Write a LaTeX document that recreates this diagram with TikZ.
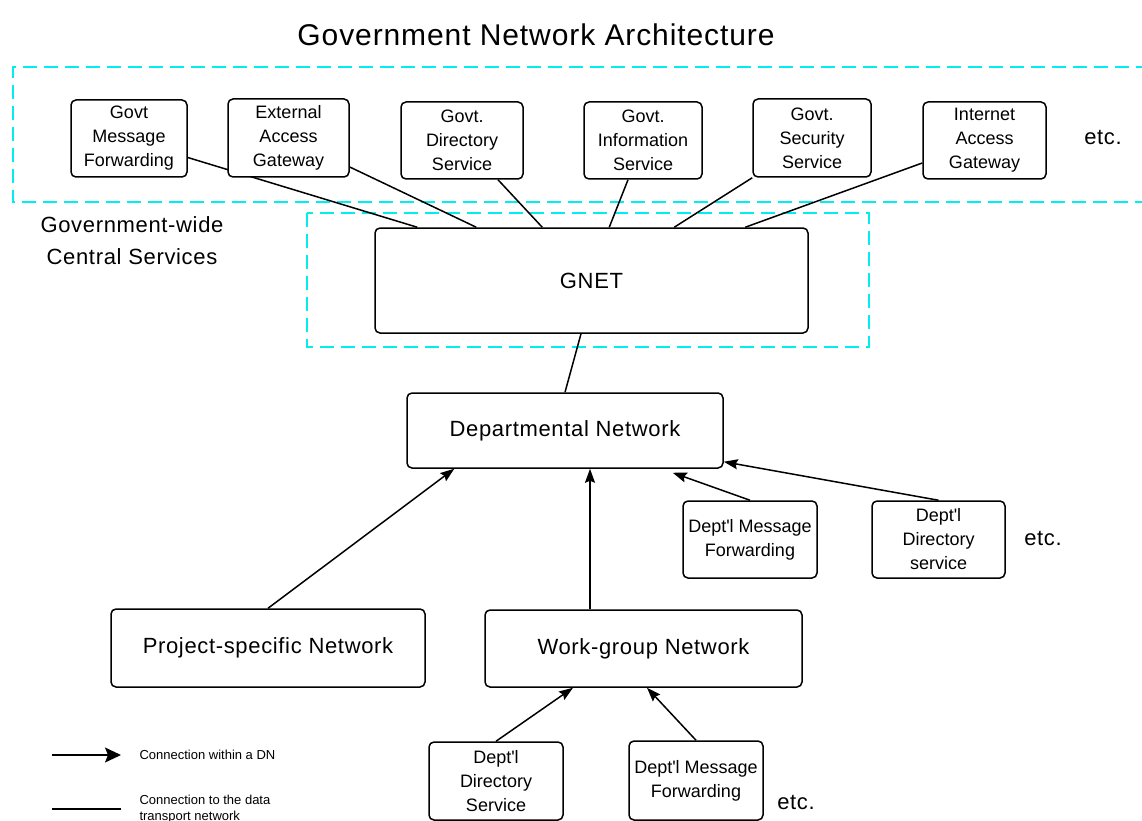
\documentclass[tikz,border=0pt]{standalone}
\usepackage{fontspec}
\setmainfont{Liberation Sans}[Ligatures=TeXOff]
\newfontfamily\spaced{Liberation Sans}[LetterSpace=3,Ligatures=TeXOff]
\usetikzlibrary{arrows.meta,backgrounds}
\definecolor{regioncyan}{RGB}{0,238,238}

\begin{document}
\begin{tikzpicture}[x=1pt, y=-1pt,
    box/.style={draw, line width=1.5pt, rounded corners=5pt, fill=white, inner sep=0pt, align=center},
    svcbox/.style={box, font=\fontsize{18}{24}\selectfont},
    netbox/.style={box, font=\spaced\fontsize{22}{28}\selectfont},
    region/.style={draw=regioncyan, line width=1.6pt, dash pattern=on 14pt off 7pt},
    link/.style={line width=1.5pt},
    dnlink/.style={line width=1.5pt, -{Stealth[length=14pt,width=10pt,inset=2pt]}}]
    \useasboundingbox (0,0) rectangle (1142,821);

    \node (title) at (536,35) {\spaced\fontsize{30}{34}\selectfont Government Network Architecture};

    % central services
    \node[svcbox, minimum width=116pt, minimum height=77pt] (msgfwd) at (129,138.5) {Govt\\Message\\Forwarding};
    \node[svcbox, minimum width=121pt, minimum height=78pt] (extgw) at (288.5,138) {External\\Access\\Gateway};
    \node[svcbox, minimum width=122pt, minimum height=77pt] (dirsvc) at (462,140.5) {Govt.\\Directory\\Service};
    \node[svcbox, minimum width=118pt, minimum height=77pt] (infosvc) at (643,140.5) {Govt.\\Information\\Service};
    \node[svcbox, minimum width=118pt, minimum height=78pt] (secsvc) at (812,138) {Govt.\\Security\\Service};
    \node[svcbox, minimum width=123pt, minimum height=77pt] (inetgw) at (984.5,140.5) {Internet\\Access\\Gateway};
    \node[font=\spaced\fontsize{22}{28}\selectfont] (etctop) at (1103,137) {etc.};
    \node[font=\spaced\fontsize{22}{32}\selectfont, align=center] (govwide) at (132,241) {Government-wide\\Central Services};

    % networks
    \node[netbox, minimum width=433pt, minimum height=105pt] (gnet) at (591.5,280.5) {GNET};
    \node[netbox, minimum width=316pt, minimum height=75pt] (dept) at (565,430.5) {Departmental Network};
    \node[netbox, minimum width=314pt, minimum height=78pt] (proj) at (268,648) {Project-specific Network};
    \node[netbox, minimum width=317pt, minimum height=77pt] (wg) at (643.5,648.5) {Work-group Network};

    % departmental services
    \node[svcbox, minimum width=134pt, minimum height=77pt] (dnmsg) at (750,539.5) {Dept'l Message\\Forwarding};
    \node[svcbox, minimum width=133pt, minimum height=77pt] (dndir) at (938.5,539.5) {Dept'l\\Directory\\service};
    \node[font=\spaced\fontsize{22}{28}\selectfont] (etcdn) at (1043,538) {etc.};
    \node[svcbox, minimum width=134pt, minimum height=78pt] (wgdir) at (496,781) {Dept'l\\Directory\\Service};
    \node[svcbox, minimum width=134pt, minimum height=79pt] (wgmsg) at (696,780.5) {Dept'l Message\\Forwarding};
    \node[font=\spaced\fontsize{22}{28}\selectfont] (etcwg) at (796,802) {etc.};

    % legend
    \coordinate (keya) at (52,755);
    \coordinate (keyb) at (121,755);
    \coordinate (keyc) at (52,809);
    \coordinate (keyd) at (121,809);
    \node[anchor=west, font=\fontsize{13}{16}\selectfont] (keyarrow) at (136,755) {Connection within a DN};
    \node[anchor=west, font=\fontsize{13}{16}\selectfont, align=left] (keyline) at (136,809) {Connection to the data\\transport network};
    \draw[line width=1.5pt, -{Stealth[length=16pt,width=15pt,inset=3pt]}] (keya) -- (keyb);
    \draw[link] (keyc) -- (keyd);

    \begin{scope}[on background layer]
    \draw[region] (1150,67) -- (13,67) -- (13,202) -- (1150,202);
    \draw[region] (307,213) rectangle (869,347);
    \draw[link] ([yshift=-19pt]msgfwd.east) -- ([xshift=43pt]gnet.north west);
    \draw[link] ([yshift=-29pt]extgw.east) -- ([xshift=102pt]gnet.north west);
    \draw[link] ([xshift=36pt]dirsvc.south) -- ([xshift=168pt]gnet.north west);
    \draw[link] ([xshift=-15pt]infosvc.south) -- ([xshift=235pt]gnet.north west);
    \draw[link] (secsvc.south west) -- ([xshift=300pt]gnet.north west);
    \draw[link] ([yshift=-22.5pt]inetgw.west) -- ([xshift=371pt]gnet.north west);
    \draw[link] ([xshift=-10.5pt]gnet.south) -- (dept.north);
    \end{scope}

    \draw[dnlink] (proj.north) -- ([xshift=48pt]dept.south west);
    \draw[dnlink] ([xshift=-53.5pt]wg.north) -- ([xshift=25pt]dept.south);
    \draw[dnlink] (dnmsg.north) -- ([xshift=-51pt,yshift=-4pt]dept.south east);
    \draw[dnlink] (dndir.north) -- ([yshift=7pt]dept.south east);
    \draw[dnlink] (wgdir.north) -- ([xshift=-70.5pt]wg.south);
    \draw[dnlink] (wgmsg.north) -- ([xshift=3.5pt]wg.south);
\end{tikzpicture}
\end{document}
